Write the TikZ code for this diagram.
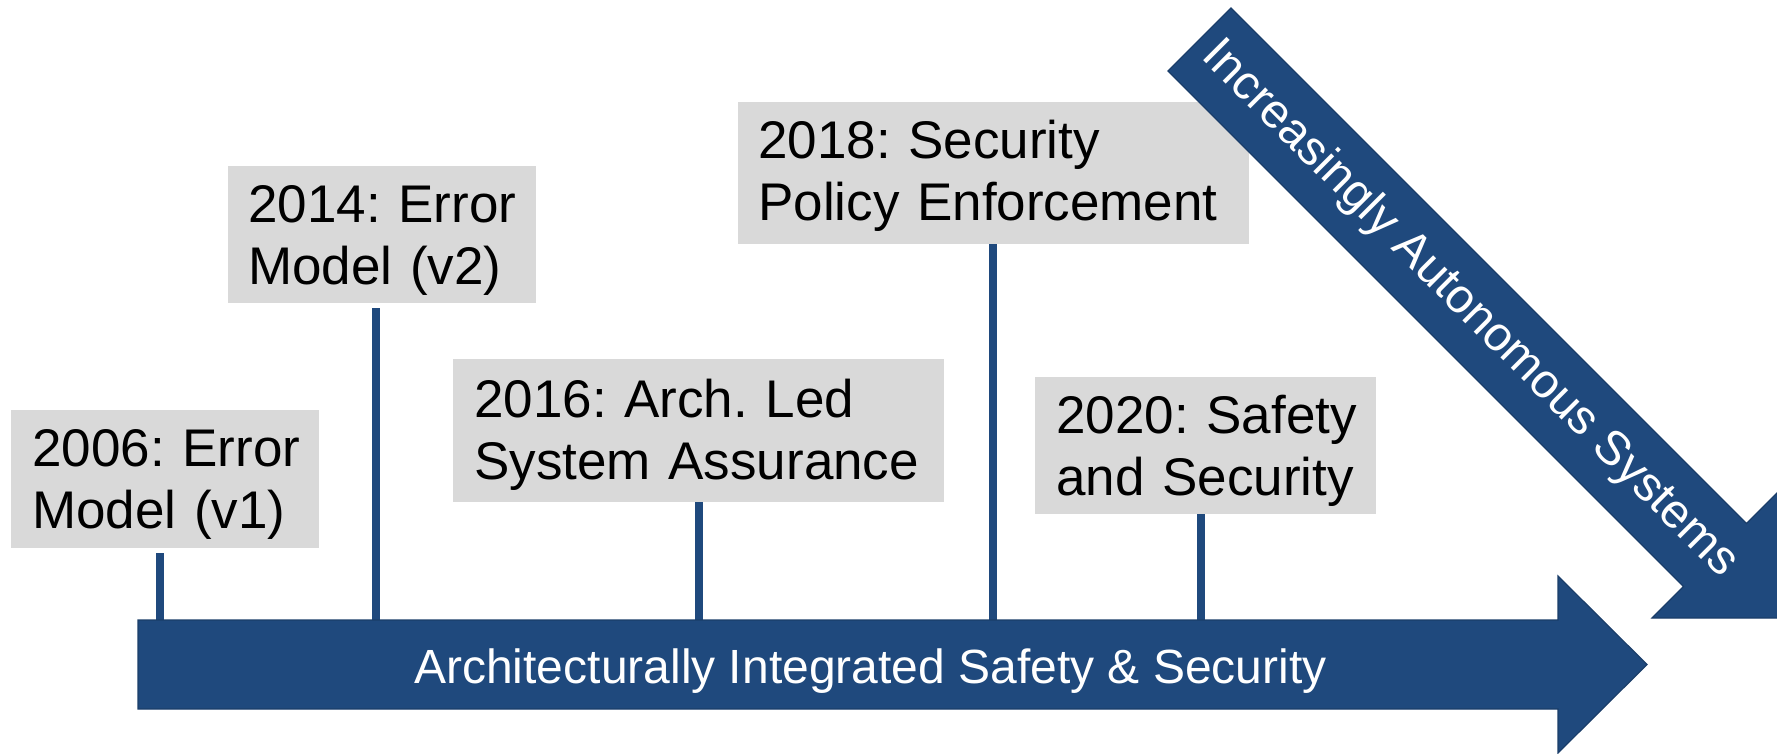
\documentclass[tikz,border=0pt]{standalone}
\usepackage{fontspec}
\setmainfont{Liberation Sans}
\frenchspacing
\definecolor{navy}{HTML}{1F497D}
\definecolor{navyedge}{HTML}{1A3D69}
\definecolor{boxgray}{HTML}{D9D9D9}
\begin{document}
\frenchspacing
\begin{tikzpicture}[x=1pt,y=-1pt,
  yearbox/.style={fill=boxgray, draw=none, anchor=north west, inner sep=0pt},
  yeartext/.style={anchor=base west, inner sep=0pt, text width=600pt, align=left,
    font=\fontsize{53}{62}\selectfont\frenchspacing},
  stem/.style={draw=navy, line width=8pt},
  bigarrow/.style={fill=navy, draw=navyedge, line width=1.2pt, line join=miter},
  bartext/.style={text=white, inner sep=0pt, font=\fontsize{48}{58}\selectfont\frenchspacing}]
\useasboundingbox (0,0) rectangle (1777,753);

% year boxes
\node[yearbox, minimum width=308pt, minimum height=138pt] (b1) at (11,410) {};
\node[yearbox, minimum width=308pt, minimum height=137pt] (b2) at (228,166) {};
\node[yearbox, minimum width=491pt, minimum height=143pt] (b3) at (453,359) {};
\node[yearbox, minimum width=511pt, minimum height=142pt] (b4) at (738,102) {};
\node[yearbox, minimum width=341pt, minimum height=137pt] (b5) at (1035,377) {};

\node[yeartext] (l1) at (32,466) {2006: Error\\Model (v1)};
\node[yeartext] (l2) at (248,222) {2014: Error\\Model (v2)};
\node[yeartext] (l3) at (474,417) {2016: Arch. Led\\System Assurance};
\node[yeartext] (l4) at (758,158) {2018: Security\\Policy Enforcement};
\node[yeartext] (l5) at (1056,433) {2020: Safety\\and Security};

% attachment points on the timeline
\coordinate (t1) at (160,620);
\coordinate (t2) at (376,620);
\coordinate (t3) at (699,620);
\coordinate (t4) at (993,620);
\coordinate (t5) at (1201,620);

\draw[stem, shorten <=5pt] (b1.south -| t1) -- (t1);
\draw[stem, shorten <=5pt] (b2.south -| t2) -- (t2);
\draw[stem] (b3.south -| t3) -- (t3);
\draw[stem] (b4.south -| t4) -- (t4);
\draw[stem] (b5.south -| t5) -- (t5);

% main timeline arrow
\path[bigarrow] (138,620) -- (1558,620) -- (1558,576) -- (1647,664.5)
  -- (1558,753) -- (1558,709) -- (138,709) -- cycle;
\node[bartext, anchor=base] (bar) at (870.5,683)
  {Architecturally Integrated Safety \& Security};

% diagonal arrow
\path[bigarrow] (1168,71) -- (1231,8) -- (1746.5,523.5) -- (1778,492)
  -- (1778,618) -- (1652,618) -- (1683.5,586.5) -- cycle;
\node[bartext, rotate=-45] (auto) at (1469.5,309.5)
  {Increasingly Autonomous Systems};
\end{tikzpicture}
\end{document}
